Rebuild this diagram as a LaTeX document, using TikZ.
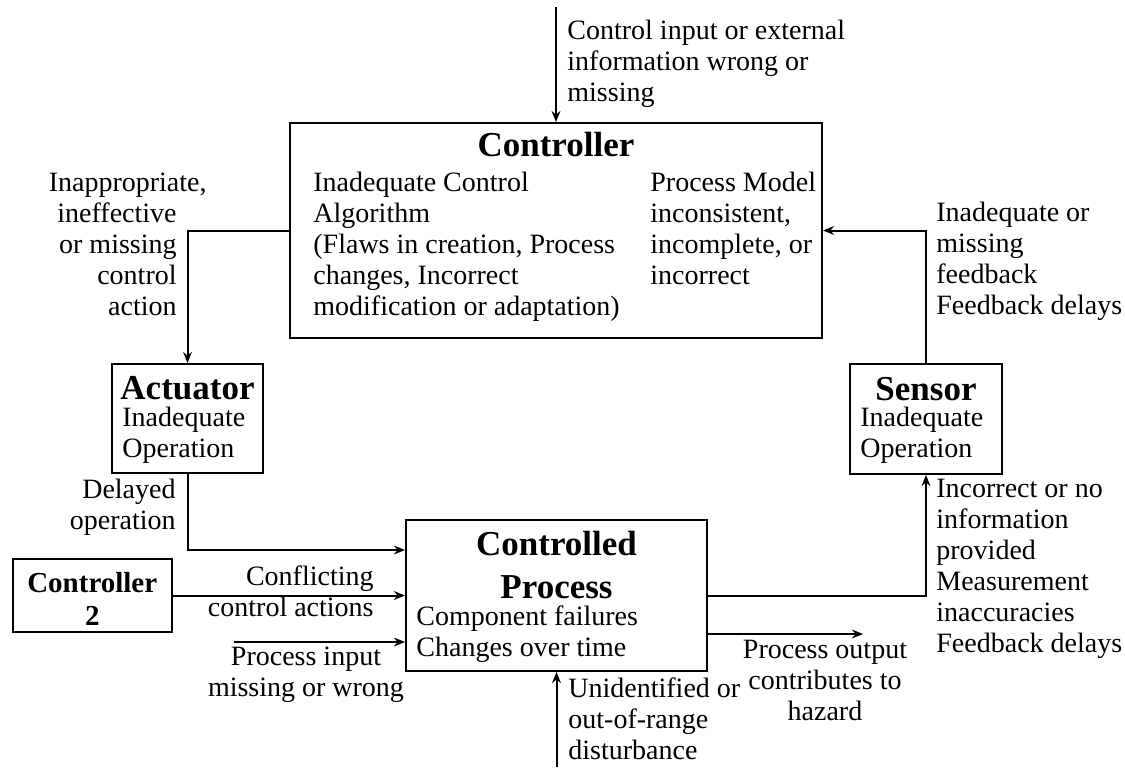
\documentclass[tikz,border=0pt]{standalone}
\usepackage{fontspec}
\setmainfont{Liberation Serif}
\usetikzlibrary{arrows.meta,calc}
\newcommand\bodyfont{\fontsize{14}{15.5}\selectfont}
\newcommand\titlefont{\fontsize{17.5}{21.5}\selectfont\bfseries}
\newcommand\smalltitlefont{\fontsize{14.5}{16.5}\selectfont\bfseries}
\begin{document}
\begin{tikzpicture}[x=0.5pt,y=-0.5pt,
  box/.style={draw,line width=1pt,inner sep=0},
  arr/.style={line width=1pt,-{Stealth[length=5.5pt,width=4.4pt]}},
  txt/.style={inner sep=0,font=\bodyfont,align=left},
  txtr/.style={inner sep=0,font=\bodyfont,align=right},
  txtc/.style={inner sep=0,font=\bodyfont,align=center},
  ttl/.style={inner sep=0,font=\titlefont,align=center},
  sttl/.style={inner sep=0,font=\smalltitlefont,align=center}]
\useasboundingbox (0,0) rectangle (1125,767);

% boxes
\node[box,minimum width=266pt,minimum height=107.5pt] (ctrl) at (556,230.5) {};
\node[box,minimum width=75.5pt,minimum height=54.5pt] (act) at (187.5,418.5) {};
\node[box,minimum width=76pt,minimum height=55pt] (sens) at (926,419) {};
\node[box,minimum width=150.5pt,minimum height=75.5pt] (cp) at (556.5,595.5) {};
\node[box,minimum width=79.75pt,minimum height=36.5pt] (c2) at (92.25,595.5) {};

% box contents
\node[ttl,anchor=north] (ctrlT) at (556,132) {Controller};
\node[txt,anchor=north west] (ctrlL) at (313,172) {Inadequate Control\\Algorithm\\(Flaws in creation, Process\\changes, Incorrect\\modification or adaptation)};
\node[txt,anchor=north west] (ctrlR) at (650,172) {Process Model\\inconsistent,\\incomplete, or\\incorrect};
\node[ttl,anchor=north] (actT) at (187.5,376) {Actuator};
\node[txt,anchor=north west] (actX) at (122,407) {Inadequate\\Operation};
\node[ttl,anchor=north] (sensT) at (926,377) {Sensor};
\node[txt,anchor=north west] (sensX) at (860,407) {Inadequate\\Operation};
\node[ttl,anchor=north] (cpT) at (556.5,531) {Controlled\\Process};
\node[txt,anchor=north west] (cpX) at (416,605) {Component failures\\Changes over time};
\node[sttl,anchor=north] (c2T) at (92.25,572) {Controller\\2};

% external coordinates
\coordinate (topin) at (556,7);
\coordinate (pin) at (234,642);
\coordinate (dist) at (556.5,767);
\coordinate (pout) at (863,634);

% connectors
\draw[arr] (topin) -- (ctrl.north);
\draw[arr] (ctrl.west) -| (act.north);
\draw[arr] (sens.north) |- (ctrl.east);
\draw[arr] (act.south) |- ([yshift=22.75pt]cp.west);
\draw[arr] (c2.east) -- (cp.west);
\draw[arr] (pin) -- (pin -| cp.west);
\draw[arr] (dist) -- (cp.south);
\draw[arr] (cp.east) -| (sens.south);
\draw[arr] (pout -| cp.east) -- (pout);

% labels
\node[txt,anchor=north west] (lTop) at (567,20) {Control input or external\\information wrong or\\missing};
\node[txtr,anchor=north east] (lAct) at (177,173) {Inappropriate,\hspace*{-15pt}\\ineffective\\or missing\\control\\action};
\node[txt,anchor=north west] (lSensUp) at (936,202) {Inadequate or\\missing\\feedback\\Feedback delays};
\node[txtr,anchor=north east] (lDel) at (176,479) {Delayed\\operation};
\node[txtr,anchor=north east] (lConf) at (374,565) {Conflicting\\control actions};
\node[txtc,anchor=north] (lPin) at (306,647) {Process input\\missing or wrong};
\node[txtc,anchor=north] (lPout) at (825,640) {Process output\\contributes to\\hazard};
\node[txt,anchor=north west] (lDist) at (568,677) {Unidentified or\\out-of-range\\disturbance};
\node[txt,anchor=north west] (lSensLo) at (936,479) {Incorrect or no\\information\\provided\\Measurement\\inaccuracies\\Feedback delays};
\end{tikzpicture}
\end{document}
